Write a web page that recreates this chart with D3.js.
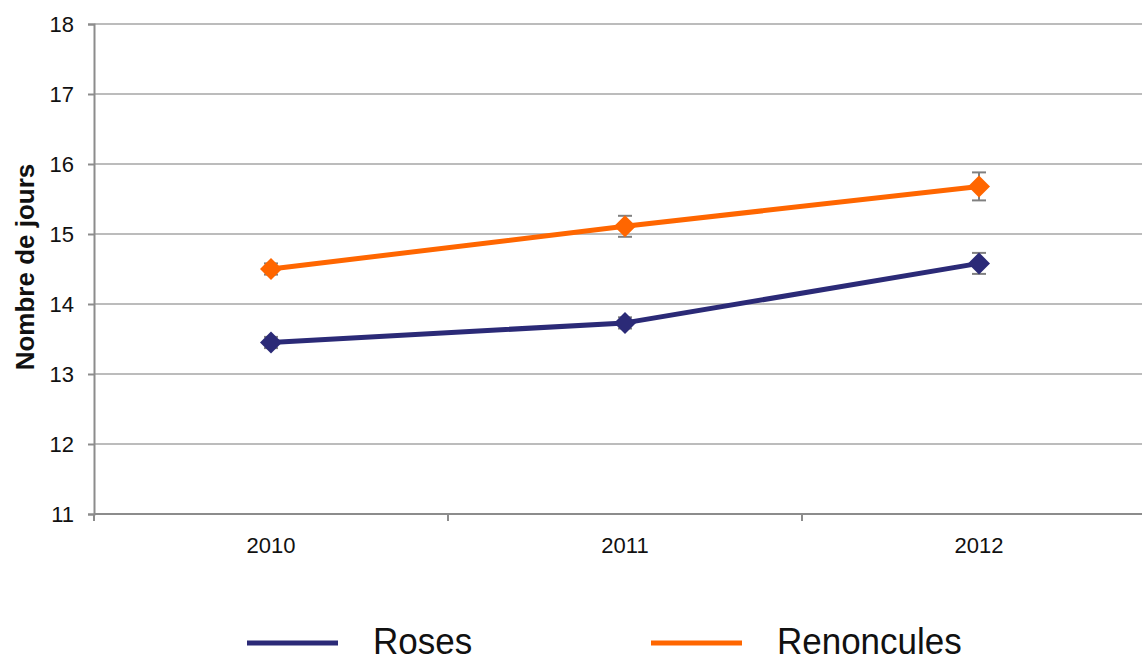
<!DOCTYPE html>
<html>
<head>
<meta charset="utf-8">
<script src="https://cdnjs.cloudflare.com/ajax/libs/d3/7.8.5/d3.min.js"></script>
<style>
  body { margin: 0; background: #fff; }
  svg { display: block; font-family: "Liberation Sans", Arial, sans-serif; }
</style>
</head>
<body>
<div id="chart"></div>
<script>
// data
var years = ["2010", "2011", "2012"];
var roses = [13.45, 13.73, 14.58];
var rosesErr = [0.08, 0.08, 0.15];
var renoncules = [14.50, 15.11, 15.68];
var renonculesErr = [0.08, 0.15, 0.2];
var yTicks = [11, 12, 13, 14, 15, 16, 17, 18];
var seriesNames = ["Roses", "Renoncules"];
var colors = ["#2B2A77", "#FF6600"];

var W = 1142, H = 656;
var m = {left: 94, top: 24};
var plotW = 1062, plotH = 490;

var svg = d3.select("#chart").append("svg")
	.attr("width", W)
	.attr("height", H);

var x = d3.scaleBand().domain(years).range([m.left, m.left + plotW]);
var y = d3.scaleLinear().domain([11, 18]).range([m.top + plotH, m.top]);

// gridlines
svg.append("g").selectAll("line")
	.data(yTicks.slice(1))
	.enter().append("line")
	.attr("x1", m.left).attr("x2", m.left + plotW)
	.attr("y1", function(d) { return y(d); })
	.attr("y2", function(d) { return y(d); })
	.attr("stroke", "#a6a6a6")
	.attr("stroke-width", 1.5);

// y axis
var yAxis = svg.append("g")
	.attr("transform", "translate(" + m.left + ",0)")
	.call(d3.axisLeft(y).tickValues(yTicks).tickSize(6).tickPadding(14).tickFormat(d3.format("d")));
yAxis.select(".domain").attr("stroke", "#8c8c8c").attr("stroke-width", 2);
yAxis.selectAll(".tick line").attr("stroke", "#8c8c8c").attr("stroke-width", 2);
yAxis.selectAll(".tick text")
	.attr("fill", "#111")
	.style("font-size", "22px")
	.attr("dy", "0.34em");

// x axis: ticks at category boundaries
var xAxis = svg.append("g")
	.attr("transform", "translate(0," + (m.top + plotH) + ")");
xAxis.append("line")
	.attr("x1", m.left).attr("x2", m.left + plotW)
	.attr("stroke", "#8c8c8c").attr("stroke-width", 2);
xAxis.selectAll(".xt")
	.data(years)
	.enter().append("line")
	.attr("class", "xt")
	.attr("x1", function(d) { return x(d); })
	.attr("x2", function(d) { return x(d); })
	.attr("y1", 0).attr("y2", 7)
	.attr("stroke", "#8c8c8c").attr("stroke-width", 2);
xAxis.selectAll("text")
	.data(years)
	.enter().append("text")
	.attr("x", function(d) { return x(d) + x.bandwidth() / 2; })
	.attr("y", 39)
	.attr("text-anchor", "middle")
	.attr("fill", "#111")
	.style("font-size", "22px")
	.text(function(d) { return d; });

// y title
svg.append("text")
	.attr("transform", "translate(34,267) rotate(-90)")
	.attr("text-anchor", "middle")
	.style("font-size", "26px")
	.style("font-weight", "bold")
	.attr("fill", "#111")
	.text("Nombre de jours");

var series = [
	{name: seriesNames[0], values: roses, err: rosesErr, color: colors[0]},
	{name: seriesNames[1], values: renoncules, err: renonculesErr, color: colors[1]}
];

var cx = function(i) { return x(years[i]) + x.bandwidth() / 2; };

var line = d3.line()
	.x(function(d, i) { return cx(i); })
	.y(function(d) { return y(d); });

series.forEach(function(s) {
	var g = svg.append("g");

	// error bars
	s.values.forEach(function(v, i) {
		var eb = g.append("g").attr("stroke", "#808080").attr("stroke-width", 2);
		eb.append("line")
			.attr("x1", cx(i)).attr("x2", cx(i))
			.attr("y1", y(v + s.err[i])).attr("y2", y(v - s.err[i]));
		[v + s.err[i], v - s.err[i]].forEach(function(e) {
			eb.append("line")
				.attr("x1", cx(i) - 7).attr("x2", cx(i) + 7)
				.attr("y1", y(e)).attr("y2", y(e));
		});
	});

	g.append("path")
		.datum(s.values)
		.attr("d", line)
		.attr("fill", "none")
		.attr("stroke", s.color)
		.attr("stroke-width", 5)
		.attr("stroke-linejoin", "round");

	g.selectAll(".mk")
		.data(s.values)
		.enter().append("path")
		.attr("class", "mk")
		.attr("transform", function(d, i) { return "translate(" + cx(i) + "," + y(d) + ")"; })
		.attr("d", "M0,-11L11,0L0,11L-11,0Z")
		.attr("fill", s.color);
});

// legend
var legendX = [247, 651];
var leg = svg.append("g").selectAll("g")
	.data(series)
	.enter().append("g")
	.attr("transform", function(d, i) { return "translate(" + legendX[i] + ",643)"; });
leg.append("line")
	.attr("x1", 0).attr("x2", 91)
	.attr("stroke", function(d) { return d.color; })
	.attr("stroke-width", 5);
leg.append("text")
	.attr("x", 126)
	.attr("y", 10.5)
	.attr("fill", "#111")
	.style("font-size", "35px")
	.attr("transform", "scale(1,1.08)")
	.text(function(d) { return d.name; });
</script>
</body>
</html>
